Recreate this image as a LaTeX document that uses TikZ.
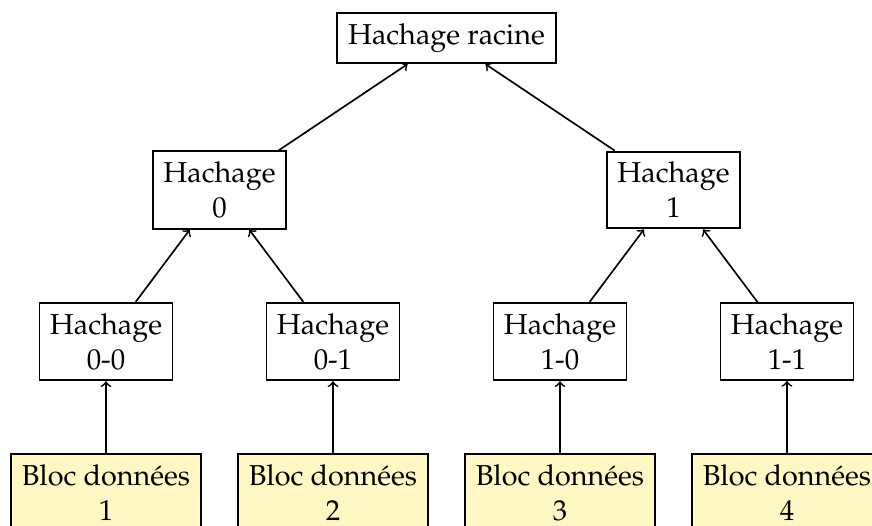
\documentclass[tikz,border=0pt]{standalone}
\usepackage[T1]{fontenc}
\usepackage{mathpazo}
\definecolor{blocfill}{RGB}{255,248,197}
\tikzset{
  hbox/.style={draw, line width=0.8pt, align=center, inner xsep=0pt, inner ysep=4.4pt,
    minimum width=55.4pt, font=\fontsize{12}{14.5}\selectfont},
  rootbox/.style={hbox, minimum width=91.2pt, minimum height=20.8pt},
  blocbox/.style={hbox, fill=blocfill, minimum width=79.2pt},
  link/.style={->, line width=0.7pt},
}
\begin{document}
\begin{tikzpicture}[x=0.41667pt, y=-0.41667pt]
\useasboundingbox (0,0) rectangle (872,526);
\node[rootbox] (root) at (446.5,38) {Hachage racine};
\node[hbox] (h0) at (219.5,190) {Hachage\\0};
\node[hbox] (h1) at (673.5,190) {Hachage\\1};
\node[hbox] (h00) at (106,341.5) {Hachage\\0-0};
\node[hbox] (h01) at (333,341.5) {Hachage\\0-1};
\node[hbox] (h10) at (560,341.5) {Hachage\\1-0};
\node[hbox] (h11) at (787,341.5) {Hachage\\1-1};
\node[blocbox] (b1) at (106,492.5) {Bloc données\\1};
\node[blocbox] (b2) at (333,492.5) {Bloc données\\2};
\node[blocbox] (b3) at (560,492.5) {Bloc données\\3};
\node[blocbox] (b4) at (787,492.5) {Bloc données\\4};
\draw[link] (h0) -- (root);
\draw[link] (h1) -- (root);
\draw[link] (h00) -- (h0);
\draw[link] (h01) -- (h0);
\draw[link] (h10) -- (h1);
\draw[link] (h11) -- (h1);
\draw[link] (b1) -- (h00);
\draw[link] (b2) -- (h01);
\draw[link] (b3) -- (h10);
\draw[link] (b4) -- (h11);
\end{tikzpicture}
\end{document}
